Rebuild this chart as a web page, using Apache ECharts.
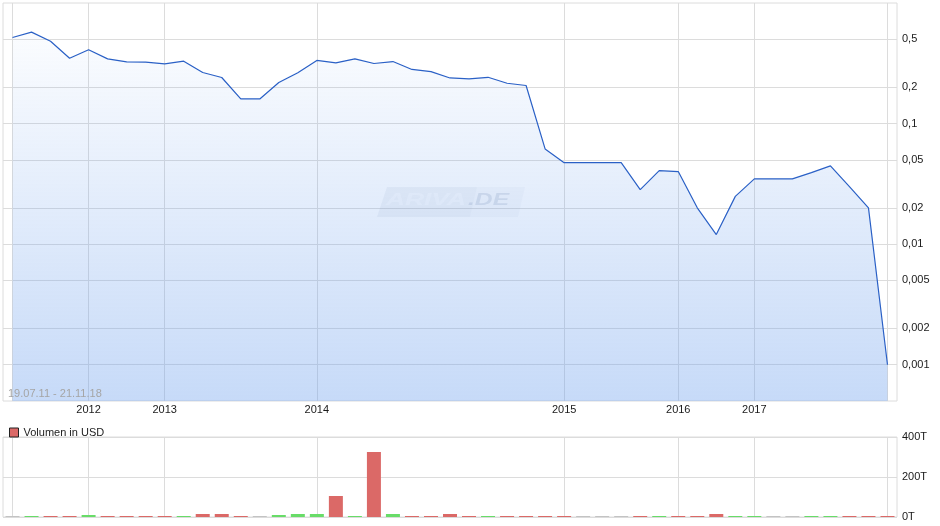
<!DOCTYPE html>
<html>
<head>
<meta charset="utf-8">
<script src="https://cdn.jsdelivr.net/npm/echarts@6/dist/echarts.min.js"></script>
<style>
html,body{margin:0;padding:0;background:#fff;}
#c{width:940px;height:526px;}
</style>
</head>
<body>
<div id="c"></div>
<script>
// ---- data ----
const categories = [
  '11-1','11-2','11-3','11-4',
  '12-1','12-2','12-3','12-4',
  '13-1','13-2','13-3','13-4','13-5','13-6','13-7','13-8',
  '14-1','14-2','14-3','14-4','14-5','14-6','14-7','14-8','14-9','14-10','14-11','14-12','14-13',
  '15-1','15-2','15-3','15-4','15-5','15-6',
  '16-1','16-2','16-3','16-4',
  '17-1','17-2','17-3','17-4','17-5','17-6','17-7','17-8'
];
const price = [
  0.517,0.573,0.482,0.348,
  0.409,0.344,0.325,0.323,
  0.313,0.329,0.265,0.241,0.160,0.160,0.219,0.264,
  0.334,0.319,0.344,0.315,0.327,0.281,0.270,0.239,0.235,0.242,0.216,0.207,0.0616,
  0.0474,0.0474,0.0474,0.0474,0.0283,0.0407,
  0.040,0.020,0.012,0.0249,
  0.0348,0.0348,0.0348,0.0392,0.0446,0.030,0.020,0.001
];
const volume = [ // in thousand USD (T)
  5,5,5,5,
  10,5,5,5,
  5,5,15,15,5,5,10,15,
  15,105,5,325,15,5,5,15,5,5,5,5,5,
  5,5,5,5,5,5,
  5,5,15,5,
  5,5,5,5,5,5,5,5
];
const yearTickIndex = [4, 8, 16, 29, 35, 39];
const yearTickLabel = ['2012','2013','2014','2015','2016','2017'];
const vGridIndex = [0, 4, 8, 16, 29, 35, 39, 46];
const priceTicks = [0.001,0.002,0.005,0.01,0.02,0.05,0.1,0.2,0.5];
const priceTickLabels = ['0,001','0,002','0,005','0,01','0,02','0,05','0,1','0,2','0,5'];
const volumeTicks = [0, 200, 400];
const volumeTickLabels = ['0T','200T','400T'];
const rangeText = '19.07.11 - 21.11.18';
const legendText = 'Volumen in USD';

// ---- styles ----
const GRID = '#dcdcdc';
const RED = '#db6967', GREEN = '#68dc68', GRAY = '#c3c3c3';
const volColors = price.map((p, i) => i === 0 ? GRAY : (p > price[i-1] ? GREEN : (p < price[i-1] ? RED : GRAY)));

function priceLabel(v) {
  let best = 0, bd = Infinity;
  priceTicks.forEach((t, i) => { const d = Math.abs(Math.log(v / t)); if (d < bd) { bd = d; best = i; } });
  return priceTickLabels[best];
}

const chart = echarts.init(document.getElementById('c'), null, {renderer: 'canvas'});
chart.setOption({
  animation: false,
  textStyle: {fontFamily: 'Liberation Sans, Arial, sans-serif'},
  grid: [
    {left: 3, right: 43, top: 3, height: 398, show: true, borderColor: GRID, borderWidth: 1, backgroundColor: 'transparent'},
    {left: 3, right: 43, top: 437, height: 80, show: true, borderColor: GRID, borderWidth: 1, backgroundColor: 'transparent'}
  ],
  legend: {
    data: [legendText], left: 4, top: 422, itemWidth: 9, itemHeight: 9, icon: 'rect',
    itemStyle: {borderColor: '#222', borderWidth: 1},
    textStyle: {fontSize: 11, color: '#222'}, selectedMode: false
  },
  xAxis: [
    {
      type: 'category', gridIndex: 0, data: categories, boundaryGap: true,
      axisLine: {show: false},
      axisTick: {show: true, inside: true, length: 398, alignWithLabel: true,
        interval: (i) => vGridIndex.indexOf(i) >= 0, lineStyle: {color: GRID}},
      axisLabel: {show: true, interval: (i) => yearTickIndex.indexOf(i) >= 0,
        formatter: (v, i) => { const k = yearTickIndex.indexOf(i); return k >= 0 ? yearTickLabel[k] : ''; },
        color: '#1a1a1a', fontSize: 11, margin: 3},
      splitLine: {show: false}
    },
    {
      type: 'category', gridIndex: 1, data: categories, boundaryGap: true,
      axisLine: {show: false},
      axisTick: {show: true, inside: true, length: 80, alignWithLabel: true,
        interval: (i) => vGridIndex.indexOf(i) >= 0, lineStyle: {color: GRID}},
      axisLabel: {show: false},
      splitLine: {show: false}
    }
  ],
  yAxis: [
    {
      type: 'log', logBase: 10, gridIndex: 0, position: 'right', min: 0.0005, max: 1,
      axisLine: {show: false},
      axisTick: {show: true, inside: true, length: 894, customValues: priceTicks, lineStyle: {color: GRID}},
      axisLabel: {show: true, customValues: priceTicks, formatter: (v) => priceLabel(v), color: '#1a1a1a', fontSize: 11, margin: 5},
      splitLine: {show: false}
    },
    {
      type: 'value', gridIndex: 1, position: 'right', min: 0, max: 400, interval: 200,
      axisLine: {show: false}, axisTick: {show: false},
      axisLabel: {show: true, formatter: (v) => volumeTickLabels[volumeTicks.indexOf(v)], color: '#1a1a1a', fontSize: 11, margin: 5},
      splitLine: {show: true, lineStyle: {color: GRID}}
    }
  ],
  series: [
    {
      type: 'line', xAxisIndex: 0, yAxisIndex: 0, data: price, symbol: 'none', z: 3,
      lineStyle: {color: '#2a60c6', width: 1.2},
      areaStyle: {origin: 'start', color: new echarts.graphic.LinearGradient(0, 3, 0, 401, [
        {offset: 0, color: 'rgba(111,161,237,0.0)'},
        {offset: 1, color: 'rgba(111,161,237,0.56)'}
      ], true)}
    },
    {
      name: legendText, type: 'bar', xAxisIndex: 1, yAxisIndex: 1, barWidth: 14,
      itemStyle: {color: RED},
      data: volume.map((v, i) => ({value: v, itemStyle: {color: volColors[i]}}))
    }
  ],
  graphic: [
    {type: 'polygon', z: 1, silent: true, shape: {points: [[387,187],[477,187],[470,217],[377,217]]},
     style: {fill: 'rgba(140,155,185,0.11)'}},
    {type: 'polygon', z: 1, silent: true, shape: {points: [[477,187],[525,187],[518,217],[470,217]]},
     style: {fill: 'rgba(140,155,185,0.06)'}},
    {type: 'text', z: 1, silent: true, x: 386, y: 192, scaleX: 1.55, scaleY: 1,
     style: {text: 'ARIVA', font: 'italic bold 17px Liberation Sans, Arial', fill: 'rgba(255,255,255,0.5)'}},
    {type: 'text', z: 1, silent: true, x: 468, y: 192, scaleX: 1.45, scaleY: 1,
     style: {text: '.DE', font: 'italic bold 17px Liberation Sans, Arial', fill: 'rgba(160,172,195,0.3)'}},
    {type: 'text', z: 10, silent: true, left: 8, top: 388,
     style: {text: rangeText, font: '11px Liberation Sans, Arial', fill: '#a5a5a5'}}
  ]
});
</script>
</body>
</html>
